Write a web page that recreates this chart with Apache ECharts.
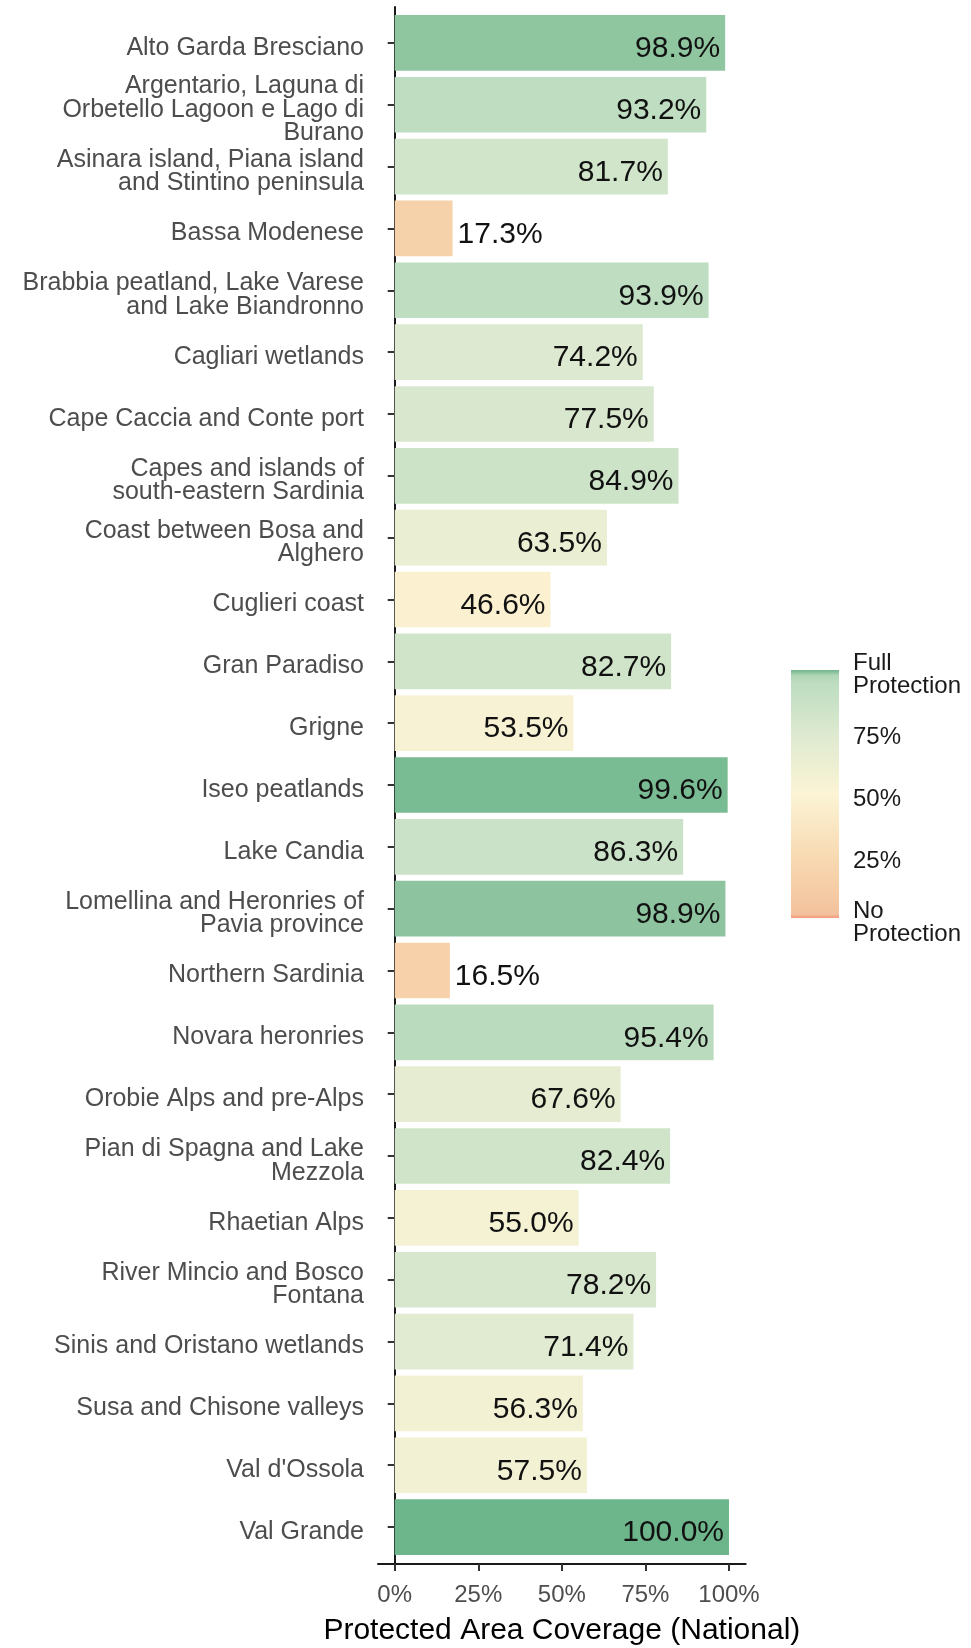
<!DOCTYPE html>
<html>
<head>
<meta charset="utf-8">
<title>Protected Area Coverage</title>
<script src="https://cdn.jsdelivr.net/npm/echarts@6/dist/echarts.min.js"></script>
<style>
    html, body { margin: 0; padding: 0; background: #fff; }
    #chart { width: 971px; height: 1648px; }
</style>
</head>
<body>
<div id="chart"></div>
<script>
    // sites, top to bottom
    var sites = [
        'Alto Garda Bresciano',
        'Argentario, Laguna di\nOrbetello Lagoon e Lago di\nBurano',
        'Asinara island, Piana island\nand Stintino peninsula',
        'Bassa Modenese',
        'Brabbia peatland, Lake Varese\nand Lake Biandronno',
        'Cagliari wetlands',
        'Cape Caccia and Conte port',
        'Capes and islands of\nsouth-eastern Sardinia',
        'Coast between Bosa and\nAlghero',
        'Cuglieri coast',
        'Gran Paradiso',
        'Grigne',
        'Iseo peatlands',
        'Lake Candia',
        'Lomellina and Heronries of\nPavia province',
        'Northern Sardinia',
        'Novara heronries',
        'Orobie Alps and pre-Alps',
        'Pian di Spagna and Lake\nMezzola',
        'Rhaetian Alps',
        'River Mincio and Bosco\nFontana',
        'Sinis and Oristano wetlands',
        'Susa and Chisone valleys',
        "Val d'Ossola",
        'Val Grande'
    ];
    // protected area coverage, %
    var coverage = [98.86, 93.2, 81.7, 17.3, 93.9, 74.2, 77.5, 84.9, 63.5, 46.6, 82.7, 53.5, 99.6,
        86.3, 98.94, 16.5, 95.4, 67.6, 82.4, 55.0, 78.2, 71.4, 56.3, 57.5, 100.0];

    var xTicks = [0, 25, 50, 75, 100];
    var legendTicks = [25, 50, 75];
    var legendLabels = {0: 'No\nProtection', 25: '25%', 50: '50%', 75: '75%', 100: 'Full\nProtection'};

    // fill scale (position 0..1 -> colour)
    var fillStops = [
        [0.000, '#f4977a'],
        [0.015, '#f3c29d'],
        [0.25, '#f8dab2'],
        [0.50, '#fbf4d5'],
        [0.75, '#dce9d0'],
        [0.95, '#bcdcc0'],
        [0.978, '#afd5b5'],
        [1.00, '#6db58a']
    ];

    function hexToRgb(h) {
        return [parseInt(h.substr(1, 2), 16), parseInt(h.substr(3, 2), 16), parseInt(h.substr(5, 2), 16)];
    }

    function fillColor(v) {
        var t = v / 100;
        for (var i = 1; i < fillStops.length; i++) {
            if (t <= fillStops[i][0]) {
                var a = fillStops[i - 1], b = fillStops[i];
                var k = (t - a[0]) / (b[0] - a[0]);
                var ca = hexToRgb(a[1]), cb = hexToRgb(b[1]);
                var c = ca.map(function (x, j) { return Math.round(x + (cb[j] - x) * k); });
                return 'rgb(' + c.join(',') + ')';
            }
        }
        return fillStops[fillStops.length - 1][1];
    }

    var font = 'Liberation Sans, Arial, sans-serif';
    var myChart = echarts.init(document.getElementById('chart'));

    var barData = coverage.map(function (v) {
        var inside = v > 30;
        return {
            value: v,
            itemStyle: {color: fillColor(v)},
            label: {
                position: inside ? 'insideRight' : 'right',
                distance: 5
            }
        };
    });

    var hidden = {show: false};

    var option = {
        backgroundColor: '#fff',
        animation: false,
        grid: [
            // 0: bars
            {left: 378, right: 225.3, top: 12, bottom: 90, outerBoundsMode: 'none'},
            // 1: axis lines
            {left: 378, right: 225.3, top: 7, bottom: 84, outerBoundsMode: 'none'},
            // 2: colour bar
            {left: 791, width: 48, top: 670, height: 248, outerBoundsMode: 'none'},
            // 3: site labels (text sits a little below the tick, as in ggplot)
            {left: 378, right: 225.3, top: 17, bottom: 85, outerBoundsMode: 'none'},
            // 4: colour bar labels
            {left: 791, width: 48, top: 675, height: 248, outerBoundsMode: 'none'}
        ],
        xAxis: [
            {gridIndex: 0, type: 'value', min: -5, max: 105, show: false},
            {
                gridIndex: 1, type: 'value', min: -5, max: 105,
                axisLine: {show: true, lineStyle: {color: '#1a1a1a', width: 2}},
                axisTick: {show: true, customValues: xTicks, length: 7, lineStyle: {color: '#333', width: 2}},
                axisLabel: {
                    customValues: xTicks, margin: 19, color: '#4d4d4d', fontSize: 24, fontFamily: font,
                    formatter: function (v) { return v + '%'; }
                },
                splitLine: {show: false},
                name: 'Protected Area Coverage (National)',
                nameLocation: 'middle',
                nameGap: 52,
                nameTextStyle: {color: '#000', fontSize: 30, fontFamily: font}
            },
            {gridIndex: 2, type: 'category', data: ['bar'], show: false},
            {gridIndex: 3, type: 'value', min: 0, max: 1, show: false},
            {gridIndex: 4, type: 'value', min: 0, max: 1, show: false}
        ],
        yAxis: [
            {
                gridIndex: 0, type: 'category', data: sites, inverse: true,
                axisLine: hidden,
                axisTick: {show: true, alignWithLabel: true, length: 7, lineStyle: {color: '#333', width: 2}},
                axisLabel: hidden
            },
            {
                gridIndex: 1, type: 'value', min: 0, max: 1,
                axisLine: {show: true, lineStyle: {color: '#1a1a1a', width: 2}},
                axisTick: hidden, axisLabel: hidden, splitLine: hidden
            },
            {
                gridIndex: 2, type: 'value', min: 0, max: 100, position: 'right',
                axisLine: hidden,
                axisTick: {show: true, inside: true, customValues: legendTicks, length: 9,
                    lineStyle: {color: '#fff', width: 1.5}},
                axisLabel: hidden,
                splitLine: hidden
            },
            {
                gridIndex: 2, type: 'value', min: 0, max: 100, position: 'left',
                axisLine: hidden,
                axisTick: {show: true, inside: true, customValues: legendTicks, length: 9,
                    lineStyle: {color: '#fff', width: 1.5}},
                axisLabel: hidden,
                splitLine: hidden
            },
            {
                gridIndex: 3, type: 'category', data: sites, inverse: true,
                axisLine: hidden, axisTick: hidden,
                axisLabel: {
                    interval: 0, margin: 14, color: '#4d4d4d', fontSize: 25, lineHeight: 23.5,
                    fontFamily: font, align: 'right'
                }
            },
            {
                gridIndex: 4, type: 'value', min: 0, max: 100, position: 'right',
                axisLine: hidden, axisTick: hidden, splitLine: hidden,
                axisLabel: {
                    customValues: xTicks, margin: 14, color: '#1a1a1a', fontSize: 24, lineHeight: 23,
                    fontFamily: font, showMinLabel: true, showMaxLabel: true,
                    formatter: function (v) { return legendLabels[v]; }
                }
            }
        ],
        series: [
            {
                type: 'bar',
                xAxisIndex: 0, yAxisIndex: 0,
                barCategoryGap: '10%',
                data: barData,
                label: {
                    show: true, color: '#111', fontSize: 30, fontFamily: font, offset: [0, 6],
                    formatter: function (p) { return p.value.toFixed(1) + '%'; }
                }
            },
            {
                type: 'bar',
                xAxisIndex: 2, yAxisIndex: 2,
                barWidth: '100%',
                data: [100],
                silent: true,
                itemStyle: {
                    color: {
                        type: 'linear', x: 0, y: 0, x2: 0, y2: 1,
                        colorStops: fillStops.slice().reverse().map(function (s) {
                            return {offset: 1 - s[0], color: s[1]};
                        })
                    }
                },
                z: 1
            }
        ]
    };
    myChart.setOption(option);
</script>
</body>
</html>
